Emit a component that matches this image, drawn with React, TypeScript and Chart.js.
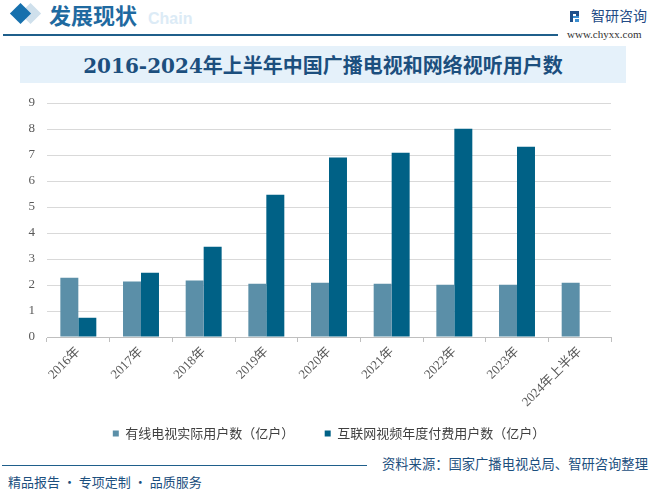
import React, { useEffect, useRef } from "react";
import { Chart, registerables } from "chart.js";

Chart.register(...registerables);

const categories = ["2016年", "2017年", "2018年", "2019年", "2020年", "2021年", "2022年", "2023年", "2024年上半年"];
const cableUsers = [2.28, 2.13, 2.17, 2.05, 2.09, 2.05, 2.01, 2.01, 2.09];
const internetVideoUsers: (number | null)[] = [0.74, 2.47, 3.47, 5.47, 6.9, 7.09, 8.01, 7.32, null];
const seriesNames = ["有线电视实际用户数（亿户）", "互联网视频年度付费用户数（亿户）"];
const yMin = 0;
const yMax = 9;
const yStep = 1;

const titleText = "2016-2024年上半年中国广播电视和网络视听用户数";
const sourceText = "资料来源：国家广播电视总局、智研咨询整理";
const footerText = "精品报告 · 专项定制 · 品质服务";

const LIGHT = "#5b8fa8";
const DARK = "#006186";

function BarChart() {
  const ref = useRef<HTMLCanvasElement | null>(null);
  useEffect(() => {
    if (!ref.current) return;
    const chart = new Chart(ref.current, {
      type: "bar",
      data: {
        labels: categories,
        datasets: [
          {
            label: seriesNames[0],
            data: cableUsers,
            backgroundColor: LIGHT,
            categoryPercentage: 0.574,
            barPercentage: 1,
          },
          {
            label: seriesNames[1],
            data: internetVideoUsers,
            backgroundColor: DARK,
            categoryPercentage: 0.574,
            barPercentage: 1,
          },
        ],
      },
      options: {
        responsive: false,
        animation: false,
        layout: { padding: { left: 0, right: 41, top: 13, bottom: 2 } },
        plugins: {
          tooltip: { enabled: false },
          legend: {
            position: "bottom",
            fullSize: false,
            labels: {
              boxWidth: 6,
              boxHeight: 6,
              padding: 10,
              color: "#404040",
              font: { family: "'Noto Sans CJK SC', sans-serif", size: 13 },
              generateLabels: (c: any) => {
                const items = Chart.defaults.plugins.legend.labels.generateLabels(c);
                items.forEach((it: any, i: number) => {
                  if (i === 0) it.text = it.text + "       ";
                  it.lineWidth = 0;
                });
                return items;
              },
            },
          },
        },
        scales: {
          x: {
            offset: true,
            grid: {
              offset: true,
              drawOnChartArea: false,
              drawTicks: true,
              tickLength: 5,
              color: "#bfbfbf",
            },
            border: { display: true, color: "#bfbfbf" },
            ticks: {
              minRotation: 45,
              maxRotation: 45,
              autoSkip: false,
              padding: 2,
              color: "#595959",
              font: { family: "'Liberation Serif', 'Noto Sans CJK SC', serif", size: 13 },
            },
            afterFit: (s: any) => {
              s.height = 80;
            },
          },
          y: {
            min: yMin,
            max: yMax,
            ticks: {
              stepSize: yStep,
              padding: 0,
              color: "#595959",
              font: { family: "'Liberation Serif', serif", size: 13 },
            },
            grid: {
              color: "#d9d9d9",
              drawTicks: true,
              tickLength: 12,
              tickColor: "rgba(0,0,0,0)",
              lineWidth: 1,
            },
            border: { display: false },
            afterFit: (s: any) => {
              s.width = 47;
            },
          },
        },
      },
    });
    return () => chart.destroy();
  }, []);
  return (
    <canvas
      ref={ref}
      width={652}
      height={362}
      style={{ position: "absolute", left: 0, top: 90, width: 652, height: 362 }}
    />
  );
}

export default function App() {
  const cjk = "'Noto Sans CJK SC', sans-serif";
  return (
    <div
      style={{
        position: "fixed",
        left: 0,
        top: 0,
        width: 652,
        height: 492,
        background: "#ffffff",
        overflow: "hidden",
        fontFamily: cjk,
      }}
    >
      {/* header diamonds */}
      <div
        style={{
          position: "absolute",
          left: 23,
          top: 6,
          width: 15,
          height: 15,
          background: "#cfe0ec",
          transform: "rotate(45deg)",
        }}
      />
      <div
        style={{
          position: "absolute",
          left: 13,
          top: 6,
          width: 15,
          height: 15,
          background: "#1670ad",
          transform: "rotate(45deg)",
        }}
      />
      <div
        style={{
          position: "absolute",
          left: 148,
          top: 9,
          fontSize: 16,
          fontWeight: 700,
          color: "#dcebf6",
          fontFamily: "'Liberation Sans', sans-serif",
          lineHeight: "20px",
        }}
      >
        Chain
      </div>
      <div
        style={{
          position: "absolute",
          left: 49,
          top: 1,
          fontSize: 22,
          fontWeight: 700,
          color: "#1f6aa0",
          lineHeight: "26px",
          letterSpacing: 0,
        }}
      >
        发展现状
      </div>
      <div style={{ position: "absolute", left: 3, top: 34, width: 555, height: 2, background: "#1f5f8b" }} />

      {/* logo */}
      <div style={{ position: "absolute", left: 570, top: 11, width: 9, height: 11 }}>
        <div style={{ position: "absolute", left: 0, top: 0, width: 9, height: 3, background: "#1f4f8a" }} />
        <div style={{ position: "absolute", left: 0, top: 0, width: 3, height: 11, background: "#1f4f8a" }} />
        <div style={{ position: "absolute", left: 6, top: 0, width: 3, height: 6, background: "#1f4f8a" }} />
        <div style={{ position: "absolute", left: 3, top: 5, width: 6, height: 2, background: "#3b8ed0" }} />
        <div style={{ position: "absolute", left: 5, top: 8, width: 4, height: 3, background: "#3b8ed0" }} />
      </div>
      <div
        style={{
          position: "absolute",
          left: 591,
          top: 6,
          fontSize: 14,
          color: "#234b86",
          lineHeight: "18px",
        }}
      >
        智研咨询
      </div>
      <div
        style={{
          position: "absolute",
          left: 567,
          top: 28,
          fontSize: 11,
          color: "#333333",
          fontFamily: "'Liberation Serif', serif",
          lineHeight: "13px",
        }}
      >
        www.chyxx.com
      </div>

      {/* title box */}
      <div
        style={{
          position: "absolute",
          left: 20,
          top: 46,
          width: 606,
          height: 37,
          background: "#e5f1fa",
          display: "flex",
          alignItems: "center",
          justifyContent: "center",
          color: "#1c4f7e",
          fontWeight: 700,
          fontSize: 20,
          fontFamily: "'DejaVu Serif', 'Noto Sans CJK SC', serif",
        }}
      >
        {titleText}
      </div>

      <BarChart />

      {/* footer */}
      <div style={{ position: "absolute", left: 2, top: 465, width: 365, height: 1, background: "#1f5f8b" }} />
      <div
        style={{
          position: "absolute",
          left: 382,
          top: 455,
          fontSize: 13.3,
          color: "#1c4f7e",
          lineHeight: "18px",
          whiteSpace: "nowrap",
        }}
      >
        {sourceText}
      </div>
      <div
        style={{
          position: "absolute",
          left: 8,
          top: 473,
          fontSize: 13,
          color: "#1c4f7e",
          lineHeight: "18px",
          whiteSpace: "nowrap",
        }}
      >
        {footerText}
      </div>
    </div>
  );
}
